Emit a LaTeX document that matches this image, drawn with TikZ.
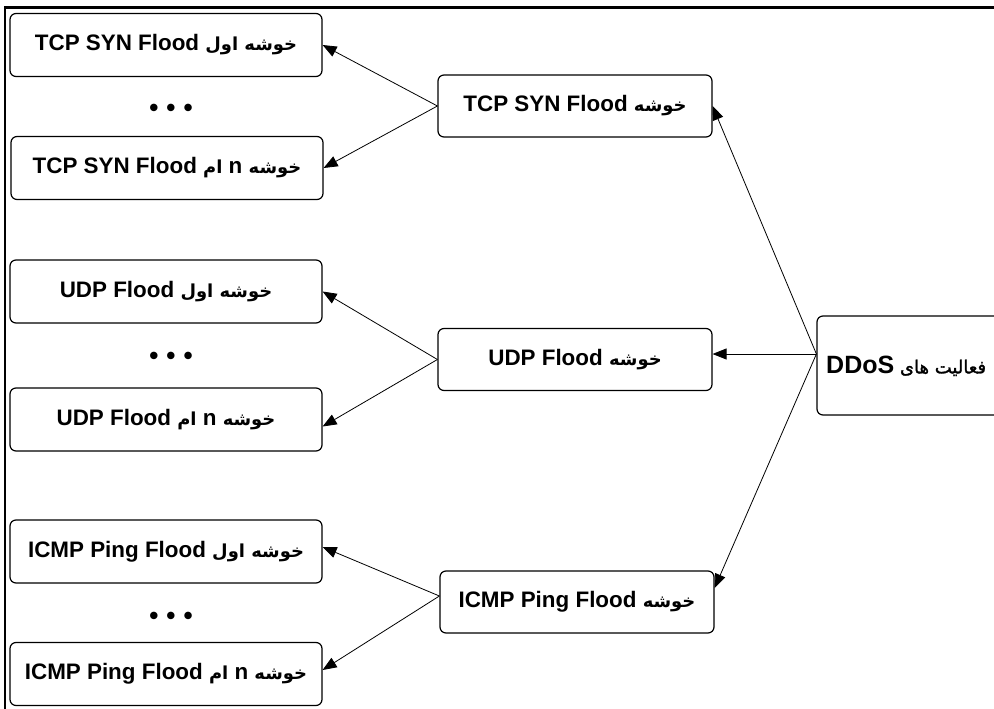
\documentclass[tikz,border=0pt]{standalone}
\usepackage{fontspec}
\setmainfont{Liberation Sans}
\newfontfamily\fa[Script=Arabic,Scale=0.8]{DejaVu Sans Bold}
\newfontfamily\fanarrow[Script=Arabic,FakeBold=1.5]{DejaVu Sans}
\TeXXeTstate=1
\usetikzlibrary{arrows.meta,calc}
\newcommand{\lat}[1]{\beginL{\rmfamily\bfseries #1}\endL}
\newcommand{\fatext}[1]{{\fa\beginR #1\endR}}
\begin{document}
\begin{tikzpicture}[x=1pt,y=-1pt,
  box/.style={draw,rounded corners=6pt,line width=1.2pt,fill=white,inner sep=0pt,
              font=\fontsize{22.4}{26}\selectfont},
  leaf/.style={box,minimum width=312pt,minimum height=63pt},
  mid/.style={box,minimum width=274pt,minimum height=62pt},
  arr/.style={line width=0.8pt,-{Triangle[length=14pt,width=11pt]}},
  dotrow/.style={font=\fontsize{26}{30}\selectfont\bfseries}]
\useasboundingbox (0,0) rectangle (994,709);
\clip (0,0) rectangle (994,709);
% frame
\draw[line width=2.5pt] (1100,7.5) -- (5,7.5) -- (5,800);
% leaves
\node[leaf] (l1) at (166,45)    {\fatext{خوشه اول \lat{TCP SYN Flood}}};
\node[leaf] (l2) at (167,168)   {\fatext{خوشه \lat{n} ام \lat{TCP SYN Flood}}};
\node[leaf] (l3) at (166,291.5) {\fatext{خوشه اول \lat{UDP Flood}}};
\node[leaf] (l4) at (166,419.5) {\fatext{خوشه \lat{n} ام \lat{UDP Flood}}};
\node[leaf] (l5) at (166,551.5) {\fatext{خوشه اول \lat{ICMP Ping Flood}}};
\node[leaf] (l6) at (166,674)   {\fatext{خوشه \lat{n} ام \lat{ICMP Ping Flood}}};
% dots
\node[dotrow] (d1) at (171,110) {•\hspace{8pt}•\hspace{8pt}•};
\node[dotrow] (d2) at (171,358) {•\hspace{8pt}•\hspace{8pt}•};
\node[dotrow] (d3) at (171,618) {•\hspace{8pt}•\hspace{8pt}•};
% middle
\node[mid] (m1) at (575,106)   {\fatext{خوشه \lat{TCP SYN Flood}}};
\node[mid] (m2) at (575,359.5) {\fatext{خوشه \lat{UDP Flood}}};
\node[mid] (m3) at (577,602)   {\fatext{خوشه \lat{ICMP Ping Flood}}};
% root
\node[box,minimum width=186pt,minimum height=99pt] (dd) at (910,365.5) {};
\node[inner sep=0pt,anchor=west] (ddt) at (826,366)
  {\fontsize{18}{22}\fanarrow\beginR فعالیت های {\fontsize{25}{30}\selectfont\lat{DDoS}}\endR};
\coordinate (ds) at ($(dd.west)+(0,-11.5)$);
% connectors
\draw[arr] (ds) -- (m1.east);
\draw[arr] (ds) -- ($(m2.east)+(0,-5.5)$);
\draw[arr] (ds) -- ($(m3.east)+(0,-14)$);
\draw[arr] (m1.west) -- (l1.east);
\draw[arr] (m1.west) -- (l2.east);
\draw[arr] (m2.west) -- (l3.east);
\draw[arr] (m2.west) -- ($(l4.east)+(0,7)$);
\draw[arr] ($(m3.west)+(0,-6)$) -- ($(l5.east)+(0,-4.5)$);
\draw[arr] ($(m3.west)+(0,-6)$) -- ($(l6.east)+(0,-4)$);
\end{tikzpicture}
\end{document}
